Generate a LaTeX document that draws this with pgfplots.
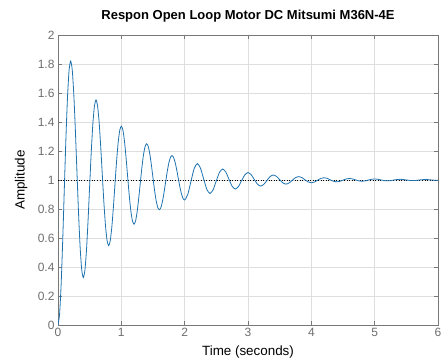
\documentclass[border=0pt]{standalone}
\usepackage{fontspec}
\setmainfont{Liberation Sans}
\usepackage{pgfplots}
\pgfplotsset{compat=1.18}
\definecolor{mblue}{RGB}{30,115,175}
\definecolor{axgray}{RGB}{120,120,120}
\definecolor{lblgray}{RGB}{110,110,110}
\definecolor{grd}{RGB}{222,222,222}
\begin{document}
\begin{tikzpicture}
\begin{axis}[
  scale only axis,
  width=380pt, height=290pt,
  xmin=0, xmax=6, ymin=0, ymax=2,
  xtick={0,1,2,3,4,5,6},
  ytick={0,0.2,0.4,0.6,0.8,1,1.2,1.4,1.6,1.8,2},
  yticklabels={0,0.2,0.4,0.6,0.8,1,1.2,1.4,1.6,1.8,2},
  xticklabels={0,1,2,3,4,5,6},
  /pgf/number format/assume math mode=true,
  tick label style={font=\fontsize{12}{14}\selectfont, text=lblgray},
  tick align=inside,
  major tick length=4pt,
  axis line style={axgray, line width=0.6pt},
  every tick/.style={axgray, line width=0.6pt},
  grid=major,
  major grid style={grd, line width=0.6pt},
  title={\textbf{Respon Open Loop Motor DC Mitsumi M36N-4E}},
  title style={font=\fontsize{13}{15}\selectfont, at={(0.5,1)}, anchor=south, yshift=3pt},
  xlabel={Time (seconds)},
  ylabel={Amplitude},
  xlabel style={font=\fontsize{13.4}{15}\selectfont, at={(0.5,0)}, anchor=north, yshift=-17pt},
  ylabel style={font=\fontsize{13.4}{15}\selectfont, at={(0,0.5)}, anchor=south, yshift=27pt},
]
\addplot[black, dotted, line width=0.6pt] coordinates {(0,1) (6,1)};
\addplot[mblue, line width=0.8pt, smooth, tension=0.4] coordinates {
(0,0) (0.025,0.0751) (0.05,0.2847) (0.075,0.5906) (0.1,0.9429) (0.125,1.2867) (0.15,1.5712) (0.175,1.7567)
(0.2,1.8204) (0.225,1.7588) (0.25,1.5869) (0.275,1.3358) (0.3,1.0468) (0.325,0.7648) (0.35,0.5314) (0.375,0.3792)
(0.4,0.3270) (0.425,0.3775) (0.45,0.5186) (0.475,0.7245) (0.5,0.9616) (0.525,1.1929) (0.55,1.3844) (0.575,1.5093)
(0.6,1.5521) (0.625,1.5107) (0.65,1.3950) (0.675,1.2260) (0.7,1.0315) (0.725,0.8417) (0.75,0.6846) (0.775,0.5822)
(0.8,0.5471) (0.825,0.5811) (0.85,0.6760) (0.875,0.8146) (0.9,0.9742) (0.925,1.1298) (0.95,1.2587) (0.975,1.3428)
(1.0,1.3716) (1.025,1.3437) (1.05,1.2658) (1.075,1.1521) (1.1,1.0212) (1.125,0.8935) (1.15,0.7877) (1.175,0.7188)
(1.2,0.6952) (1.225,0.7181) (1.25,0.7819) (1.275,0.8752) (1.3,0.9826) (1.325,1.0874) (1.35,1.1741) (1.375,1.2307)
(1.4,1.2501) (1.425,1.2313) (1.45,1.1789) (1.475,1.1024) (1.5,1.0143) (1.525,0.9283) (1.55,0.8571) (1.575,0.8108)
(1.6,0.7949) (1.625,0.8103) (1.65,0.8532) (1.675,0.9160) (1.7,0.9883) (1.725,1.0588) (1.75,1.1172) (1.775,1.1553)
(1.8,1.1683) (1.825,1.1557) (1.85,1.1204) (1.875,1.0689) (1.9,1.0096) (1.925,0.9517) (1.95,0.9038) (1.975,0.8727)
(2.0,0.8620) (2.05,0.9012) (2.1,0.9921) (2.15,1.0789) (2.2,1.1133) (2.25,1.0810) (2.3,1.0065) (2.35,0.9353)
(2.4,0.9071) (2.45,0.9335) (2.5,0.9947) (2.55,1.0531) (2.6,1.0762) (2.65,1.0545) (2.7,1.0044) (2.75,0.9565)
(2.8,0.9375) (2.85,0.9552) (2.9,0.9964) (2.95,1.0357) (3.0,1.0513) (3.05,1.0367) (3.1,1.0030) (3.15,0.9707)
(3.2,0.9579) (3.25,0.9699) (3.3,0.9976) (3.35,1.0240) (3.4,1.0345) (3.45,1.0247) (3.5,1.0020) (3.55,0.9803)
(3.6,0.9717) (3.65,0.9797) (3.7,0.9984) (3.75,1.0162) (3.8,1.0232) (3.85,1.0166) (3.9,1.0013) (3.95,0.9867)
(4.0,0.9809) (4.05,0.9863) (4.1,0.9989) (4.15,1.0109) (4.2,1.0156) (4.25,1.0112) (4.3,1.0009) (4.35,0.9911)
(4.4,0.9872) (4.45,0.9908) (4.5,0.9993) (4.55,1.0073) (4.6,1.0105) (4.65,1.0075) (4.7,1.0006) (4.75,0.9940)
(4.8,0.9914) (4.85,0.9938) (4.9,0.9995) (4.95,1.0049) (5.0,1.0071) (5.05,1.0051) (5.1,1.0004) (5.15,0.9960)
(5.2,0.9942) (5.25,0.9958) (5.3,0.9997) (5.35,1.0033) (5.4,1.0048) (5.45,1.0034) (5.5,1.0003) (5.55,0.9973)
(5.6,0.9961) (5.65,0.9972) (5.7,0.9998) (5.75,1.0022) (5.8,1.0032) (5.85,1.0023) (5.9,1.0002) (5.95,0.9982)
(6.0,0.9974)
};
\end{axis}
\pgfresetboundingbox
\path[use as bounding box] ([xshift=-58pt,yshift=-35pt]current axis.south west) rectangle ([xshift=5pt,yshift=35pt]current axis.north east);
\end{tikzpicture}
\end{document}
